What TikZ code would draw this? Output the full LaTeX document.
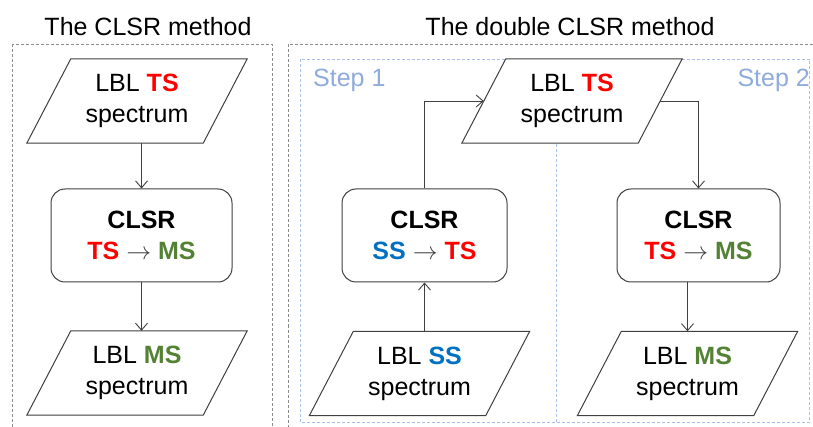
\documentclass[tikz,border=0pt]{standalone}
\usepackage{fontspec}
\setmainfont{Liberation Sans}
\usetikzlibrary{arrows.meta,calc,backgrounds}
\definecolor{tsred}{HTML}{FF0000}
\definecolor{msgreen}{HTML}{548235}
\definecolor{ssblue}{HTML}{0070C0}
\definecolor{steplbl}{HTML}{8FAADC}
\definecolor{stepline}{HTML}{A9C0E8}
\definecolor{framegray}{HTML}{8C8C8C}
\definecolor{linegray}{HTML}{404040}
\newcommand{\TSt}{\textbf{\color{tsred}TS}}
\newcommand{\MSt}{\textbf{\color{msgreen}MS}}
\newcommand{\SSt}{\textbf{\color{ssblue}SS}}
\newcommand{\myarr}{{\color{linegray}$\rightarrow$}}
\tikzset{
  txt/.style={font=\fontsize{25}{31}\selectfont, align=center, inner sep=0pt},
  para/.style={txt, minimum width=176pt, minimum height=84pt},
  procbox/.style={txt, draw=linegray, line width=1pt, rounded corners=14pt, fill=white, minimum height=93pt},
  conn/.style={draw=linegray, line width=0.9pt, -{Straight Barb[length=7pt,width=12pt]}},
  outerframe/.style={draw=framegray, line width=0.8pt, dash pattern=on 3pt off 2pt},
  stepframe/.style={draw=stepline, line width=0.8pt, dash pattern=on 3pt off 2pt},
  steptext/.style={font=\fontsize{25}{30}\selectfont, text=steplbl, inner sep=0pt},
  titletext/.style={font=\fontsize{25}{30}\selectfont, inner sep=0pt}
}
\begin{document}
\begin{tikzpicture}[x=1pt,y=-1pt]
\useasboundingbox (0,0) rectangle (813,427);
% titles
\node[titletext] (t1) at (148,27) {The CLSR method};
\node[titletext] (t2) at (570,27) {The double CLSR method};
\node[steptext, anchor=west] (s1) at (313,80) {Step 1};
\node[steptext, anchor=east] (s2) at (810,80) {Step 2};
% nodes
\node[para] (p1) at (137,101) {LBL \TSt\\spectrum};
\node[procbox, minimum width=181pt] (b1) at (141.5,235.5) {\textbf{CLSR}\\\TSt\ \myarr\ \MSt};
\node[para] (p2) at (137,373) {LBL \MSt\\spectrum};
\node[para] (p3) at (572,101) {LBL \TSt\\spectrum};
\node[procbox, minimum width=165pt] (b2) at (424.5,235.5) {\textbf{CLSR}\\\SSt\ \myarr\ \TSt};
\node[procbox, minimum width=163pt] (b3) at (698.5,235.5) {\textbf{CLSR}\\\TSt\ \myarr\ \MSt};
\node[para] (p4) at (419.5,373.5) {LBL \SSt\\spectrum};
\node[para] (p5) at (687.5,373.5) {LBL \MSt\\spectrum};
\begin{scope}[on background layer]
\fill[white] (0,0) rectangle (813,427);
\begin{scope}
\clip (0,0) rectangle (813,427);
\draw[outerframe] (12,44) rectangle (272,440);
\draw[outerframe] (288,44.5) rectangle (830,440);
\draw[stepframe] (300,59) rectangle (809.5,422);
\draw[stepframe] (556,59) -- (556,422);
\end{scope}
% parallelogram outlines
\foreach \n in {p1,p2,p3,p4,p5}{
  \draw[linegray, line width=1pt, fill=white]
    ([xshift=22pt]\n.north west) -- ([xshift=22pt]\n.north east)
    -- ([xshift=-22pt]\n.south east) -- ([xshift=-22pt]\n.south west) -- cycle;
}
\end{scope}
% connectors
\draw[conn] (b1.north |- p1.south) -- (b1.north);
\draw[conn] (b1.south) -- (b1.south |- p2.north);
\draw[conn] (b2.north) |- (p3.west);
\draw[conn] (p3.east) -| (b3.north);
\draw[conn] (b2.south |- p4.north) -- (b2.south);
\draw[conn] (p5.north |- b3.south) -- (p5.north);
\end{tikzpicture}
\end{document}
